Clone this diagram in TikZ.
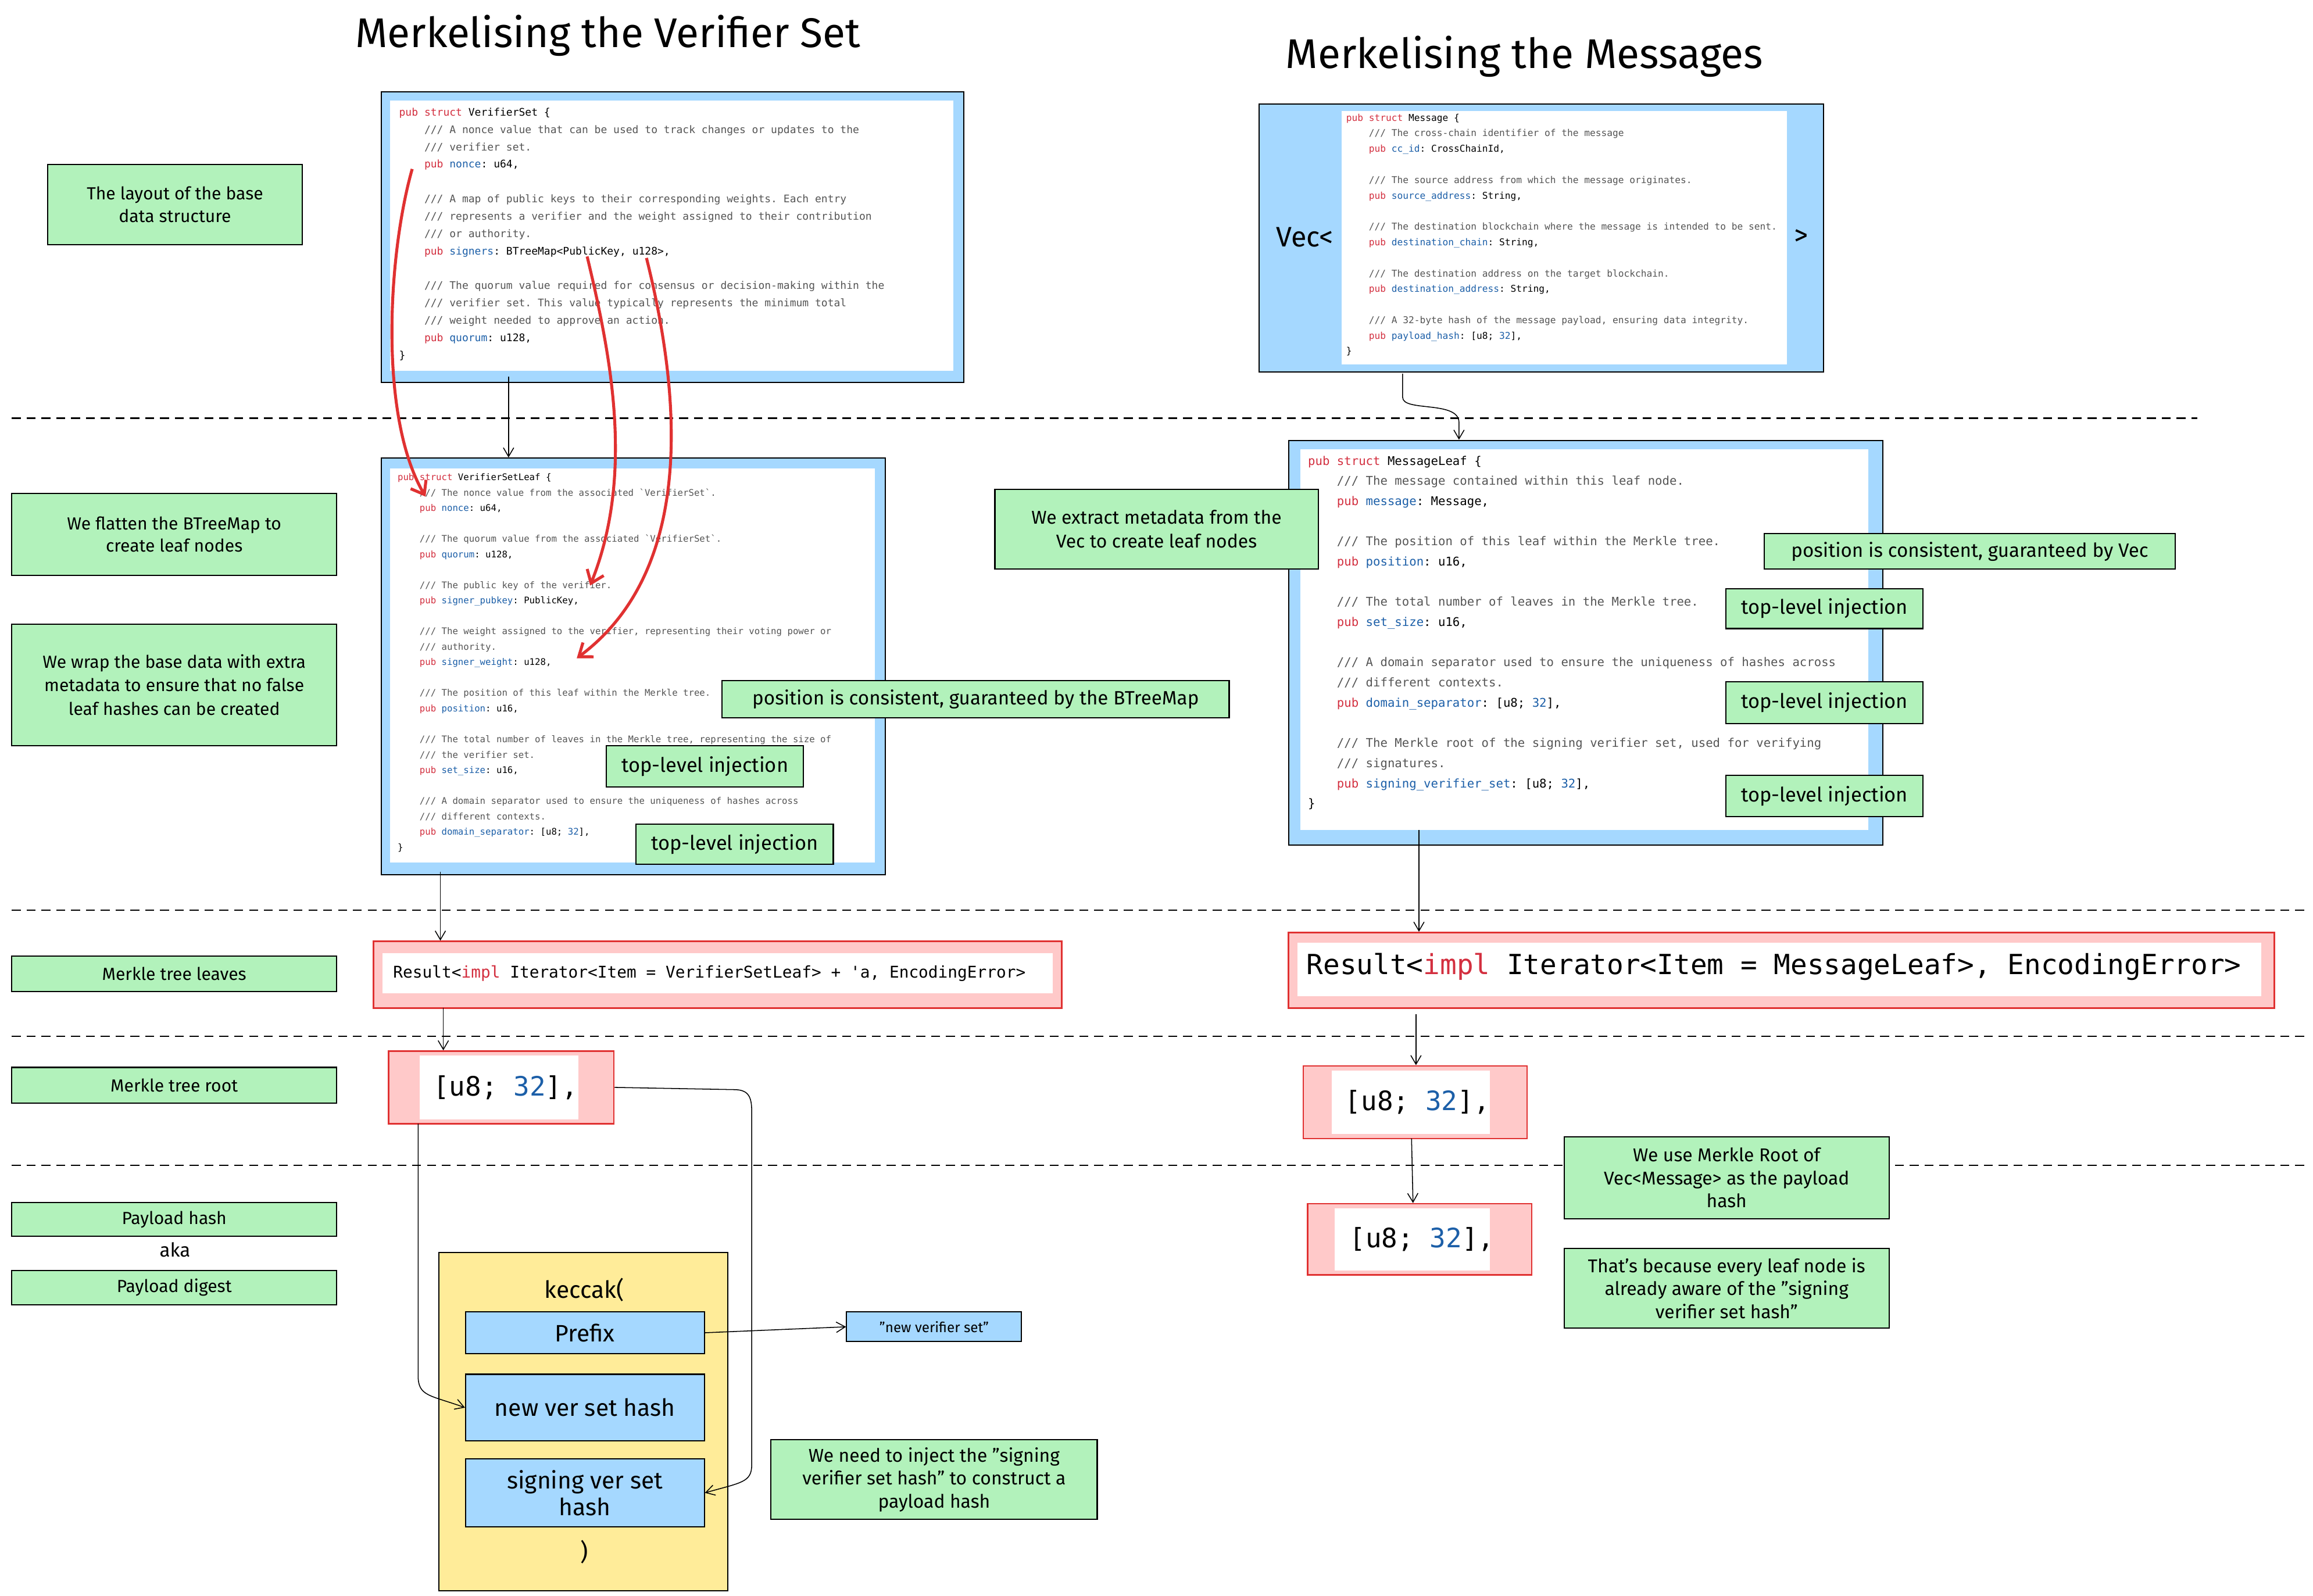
\documentclass[tikz,border=0pt]{standalone}
\usepackage{fontspec}
\setmainfont{Fira Sans}
\setmonofont{DejaVu Sans Mono}
\usetikzlibrary{arrows.meta}
\definecolor{gfill}{HTML}{B2F2BB}
\definecolor{bfill}{HTML}{A5D8FF}
\definecolor{rfill}{HTML}{FFC9C9}
\definecolor{rline}{HTML}{E03131}
\definecolor{yfill}{HTML}{FFEC99}
\definecolor{kw}{HTML}{D32F3F}
\definecolor{fld}{HTML}{1C5FA8}
\definecolor{cmt}{HTML}{555555}
\newcommand{\kp}{\textcolor{kw}{pub}}
\newcommand{\ks}{\textcolor{kw}{struct}}
\newcommand{\fd}[1]{\textcolor{fld}{#1}}
\newcommand{\cm}[1]{\textcolor{cmt}{#1}}
\newcommand{\ii}{\hspace*{2.408em}}
\newcommand{\bl}{\mbox{}}
\begin{document}
\begin{tikzpicture}[x=1pt,y=-1pt,
  note/.style={draw=black,fill=gfill,line width=0.8pt,align=center,inner sep=2pt,font=\fontsize{11.8}{15}\selectfont},
  bnote/.style={draw=black,fill=bfill,line width=0.8pt,align=center,font=\fontsize{12}{14}\selectfont},
  code/.style={anchor=north west,inner sep=0pt,align=left},
  conn/.style={line width=0.6pt,-{Straight Barb[length=6pt,width=7pt]}},
  redarr/.style={draw=rline,line width=2pt,-{Straight Barb[length=8pt,width=12pt]}},
  sepline/.style={line width=1pt,dash pattern=on 6pt off 4pt},
  title/.style={font=\fontsize{28}{32}\selectfont}]
\useasboundingbox[fill=white] (0,0) rectangle (1560,1076.3);

% titles
\node[title] (t1) at (410,24) {Merkelising the Verifier Set};
\node[title] (t2) at (1028,38) {Merkelising the Messages};

% dashed separators
\draw[sepline] (8,282) -- (1482,282);
\draw[sepline] (8,614) -- (1555,614);
\draw[sepline] (8,699) -- (1555,699);
\draw[sepline] (8,786) -- (1555,786);

% ===== left notes
\node[note,minimum width=172pt,minimum height=54pt] (n1) at (118,138) {The layout of the base\\data structure};
\node[note,minimum width=219pt,minimum height=55pt] (n2) at (117.5,360.5) {We flatten the BTreeMap to\\create leaf nodes};
\node[note,minimum width=219pt,minimum height=82pt,font=\fontsize{11.8}{16}\selectfont] (n3) at (117.5,462) {We wrap the base data with extra\\metadata to ensure that no false\\leaf hashes can be created};
\node[note,minimum width=219pt,minimum height=24pt] (n4) at (117.5,657) {Merkle tree leaves};
\node[note,minimum width=219pt,minimum height=24pt] (n5) at (117.5,732) {Merkle tree root};
\node[note,minimum width=219pt,minimum height=23pt] (n6) at (117.5,822.5) {Payload hash};
\node[font=\fontsize{13}{15}\selectfont] (aka) at (118,843) {aka};
\node[note,minimum width=219pt,minimum height=23pt] (n7) at (117.5,868.5) {Payload digest};

% ===== VerifierSet box
\node[draw=black,fill=bfill,line width=0.8pt,minimum width=393pt,minimum height=196pt] (vs) at (453.5,160) {};
\fill[white] (263,68) rectangle (643,250);
\node[code,font=\ttfamily\fontsize{7.06}{11.7}\selectfont] (vscode) at (269,72.6) {%
\kp{} \ks{} VerifierSet \{\\
\ii\cm{/// A nonce value that can be used to track changes or updates to the}\\
\ii\cm{/// verifier set.}\\
\ii\kp{} \fd{nonce}: u64,\\
\bl\\
\ii\cm{/// A map of public keys to their corresponding weights. Each entry}\\
\ii\cm{/// represents a verifier and the weight assigned to their contribution}\\
\ii\cm{/// or authority.}\\
\ii\kp{} \fd{signers}: BTreeMap<PublicKey, u128>,\\
\bl\\
\ii\cm{/// The quorum value required for consensus or decision-making within the}\\
\ii\cm{/// verifier set. This value typically represents the minimum total}\\
\ii\cm{/// weight needed to approve an action.}\\
\ii\kp{} \fd{quorum}: u128,\\
\}};

% ===== VerifierSetLeaf box
\node[draw=black,fill=bfill,line width=0.8pt,minimum width=340pt,minimum height=281pt] (vl) at (427,449.5) {};
\fill[white] (263,316) rectangle (590,582);
\node[code,font=\ttfamily\fontsize{6.15}{10.4}\selectfont] (vlcode) at (268,319.2) {%
\kp{} \ks{} VerifierSetLeaf \{\\
\ii\cm{/// The nonce value from the associated `VerifierSet`.}\\
\ii\kp{} \fd{nonce}: u64,\\
\bl\\
\ii\cm{/// The quorum value from the associated `VerifierSet`.}\\
\ii\kp{} \fd{quorum}: u128,\\
\bl\\
\ii\cm{/// The public key of the verifier.}\\
\ii\kp{} \fd{signer\_pubkey}: PublicKey,\\
\bl\\
\ii\cm{/// The weight assigned to the verifier, representing their voting power or}\\
\ii\cm{/// authority.}\\
\ii\kp{} \fd{signer\_weight}: u128,\\
\bl\\
\ii\cm{/// The position of this leaf within the Merkle tree.}\\
\ii\kp{} \fd{position}: u16,\\
\bl\\
\ii\cm{/// The total number of leaves in the Merkle tree, representing the size of}\\
\ii\cm{/// the verifier set.}\\
\ii\kp{} \fd{set\_size}: u16,\\
\bl\\
\ii\cm{/// A domain separator used to ensure the uniqueness of hashes across}\\
\ii\cm{/// different contexts.}\\
\ii\kp{} \fd{domain\_separator}: [u8; \fd{32}],\\
\}};
\node[note,minimum width=342pt,minimum height=25pt,font=\fontsize{13}{15}\selectfont] (pc1) at (658,471.5) {position is consistent, guaranteed by the BTreeMap};
\node[note,minimum width=133pt,minimum height=28pt,font=\fontsize{13.5}{15}\selectfont] (tl1) at (475.5,517) {top-level injection};
\node[note,minimum width=133pt,minimum height=27pt,font=\fontsize{13.5}{15}\selectfont] (tl2) at (495.5,569.5) {top-level injection};

% red arrows
\draw[redarr] (278,114) .. controls (262,170) and (255,280) .. (287,335);
\draw[redarr] (396,173) .. controls (412,240) and (428,320) .. (398,395);
\draw[redarr] (436,174) .. controls (455,250) and (475,380) .. (389,444);

% ===== Message box
\node[draw=black,fill=bfill,line width=0.8pt,minimum width=381pt,minimum height=181pt] (msg) at (1039.5,160.5) {};
\fill[white] (905,75) rectangle (1205,246);
\node[font=\fontsize{19}{22}\selectfont] (vec) at (880,160) {Vec<};
\node[font=\fontsize{19}{22}\selectfont] (vecr) at (1215,160) {>};
\node[code,font=\ttfamily\fontsize{6.35}{10.5}\selectfont] (msgcode) at (907.7,76.6) {%
\kp{} \ks{} Message \{\\
\ii\cm{/// The cross-chain identifier of the message}\\
\ii\kp{} \fd{cc\_id}: CrossChainId,\\
\bl\\
\ii\cm{/// The source address from which the message originates.}\\
\ii\kp{} \fd{source\_address}: String,\\
\bl\\
\ii\cm{/// The destination blockchain where the message is intended to be sent.}\\
\ii\kp{} \fd{destination\_chain}: String,\\
\bl\\
\ii\cm{/// The destination address on the target blockchain.}\\
\ii\kp{} \fd{destination\_address}: String,\\
\bl\\
\ii\cm{/// A 32-byte hash of the message payload, ensuring data integrity.}\\
\ii\kp{} \fd{payload\_hash}: [u8; \fd{32}],\\
\}};

% ===== MessageLeaf box
\node[draw=black,fill=bfill,line width=0.8pt,minimum width=401pt,minimum height=273pt] (ml) at (1069.5,433.5) {};
\fill[white] (877,303) rectangle (1260,560);
\node[code,font=\ttfamily\fontsize{8.1}{13.6}\selectfont] (mlcode) at (882,307.3) {%
\kp{} \ks{} MessageLeaf \{\\
\ii\cm{/// The message contained within this leaf node.}\\
\ii\kp{} \fd{message}: Message,\\
\bl\\
\ii\cm{/// The position of this leaf within the Merkle tree.}\\
\ii\kp{} \fd{position}: u16,\\
\bl\\
\ii\cm{/// The total number of leaves in the Merkle tree.}\\
\ii\kp{} \fd{set\_size}: u16,\\
\bl\\
\ii\cm{/// A domain separator used to ensure the uniqueness of hashes across}\\
\ii\cm{/// different contexts.}\\
\ii\kp{} \fd{domain\_separator}: [u8; \fd{32}],\\
\bl\\
\ii\cm{/// The Merkle root of the signing verifier set, used for verifying}\\
\ii\cm{/// signatures.}\\
\ii\kp{} \fd{signing\_verifier\_set}: [u8; \fd{32}],\\
\}};
\node[note,minimum width=218pt,minimum height=54pt,font=\fontsize{12.5}{16}\selectfont] (ex) at (780,357) {We extract metadata from the\\Vec to create leaf nodes};
\node[note,minimum width=277pt,minimum height=24pt,font=\fontsize{13}{15}\selectfont] (pc2) at (1328.5,372) {position is consistent, guaranteed by Vec};
\node[note,minimum width=133pt,minimum height=27pt,font=\fontsize{13.5}{15}\selectfont] (tl3) at (1230.5,410.5) {top-level injection};
\node[note,minimum width=133pt,minimum height=28pt,font=\fontsize{13.5}{15}\selectfont] (tl4) at (1230.5,474) {top-level injection};
\node[note,minimum width=133pt,minimum height=28pt,font=\fontsize{13.5}{15}\selectfont] (tl5) at (1230.5,537) {top-level injection};

% ===== Result boxes
\node[draw=rline,fill=rfill,line width=1pt,minimum width=464pt,minimum height=45pt] (res1) at (484,657.5) {};
\fill[white] (258,643) rectangle (710,670);
\node[anchor=west,inner sep=0pt,font=\ttfamily\fontsize{10.9}{13}\selectfont] (res1t) at (265,656.5) {Result<\textcolor{kw}{impl} Iterator<Item = VerifierSetLeaf> + 'a, EncodingError>};
\node[draw=rline,fill=rfill,line width=1pt,minimum width=665pt,minimum height=51pt] (res2) at (1201.5,654.5) {};
\fill[white] (875,636) rectangle (1525,672);
\node[anchor=west,inner sep=0pt,font=\ttfamily\fontsize{18.7}{24}\selectfont] (res2t) at (881,652) {Result<\textcolor{kw}{impl} Iterator<Item = MessageLeaf>, EncodingError>};

% ===== [u8;32] boxes
\node[draw=rline,fill=rfill,line width=1pt,minimum width=152pt,minimum height=49pt] (h1) at (338,733.5) {};
\fill[white] (283,712) rectangle (390,755);
\node[anchor=west,inner sep=0pt,font=\ttfamily\fontsize{18}{20}\selectfont] (h1t) at (292,733.5) {[u8; \fd{32}],};
\node[draw=rline,fill=rfill,line width=1pt,minimum width=151pt,minimum height=49pt] (h2) at (954.5,743.5) {};
\fill[white] (898,722) rectangle (1005,765);
\node[anchor=west,inner sep=0pt,font=\ttfamily\fontsize{18}{20}\selectfont] (h2t) at (907,743.5) {[u8; \fd{32}],};
\node[draw=rline,fill=rfill,line width=1pt,minimum width=151pt,minimum height=48pt] (h3) at (957.5,836) {};
\fill[white] (900,815) rectangle (1005,857);
\node[anchor=west,inner sep=0pt,font=\ttfamily\fontsize{18}{20}\selectfont] (h3t) at (910,836) {[u8; \fd{32}],};

\node[note,minimum width=219pt,minimum height=55pt,font=\fontsize{12.5}{15.5}\selectfont] (mr1) at (1164.5,794.5) {We use Merkle Root of\\Vec<Message> as the payload\\hash};
\node[note,minimum width=219pt,minimum height=54pt,font=\fontsize{12.5}{15.5}\selectfont] (mr2) at (1164.5,869) {That's because every leaf node is\\already aware of the "signing\\verifier set hash"};

% ===== keccak
\node[draw=black,fill=yfill,line width=0.8pt,minimum width=195pt,minimum height=228pt] (kec) at (393.5,959) {};
\node[font=\fontsize{16}{18}\selectfont] (kect) at (394,870) {keccak(};
\node[bnote,minimum width=161pt,minimum height=28pt,font=\fontsize{16}{18}\selectfont] (pre) at (394.5,899) {Prefix};
\node[bnote,minimum width=161pt,minimum height=45pt,font=\fontsize{16}{18}\selectfont] (nvs) at (394.5,949.5) {new ver set hash};
\node[bnote,minimum width=161pt,minimum height=46pt,font=\fontsize{16}{18}\selectfont] (svs) at (394.5,1007) {signing ver set\\hash};
\node[font=\fontsize{16}{18}\selectfont] (kecc) at (394,1047) {)};
\node[bnote,minimum width=118pt,minimum height=20pt,font=\fontsize{9.5}{11}\selectfont] (nvstr) at (630,895) {"new verifier set"};
\node[note,minimum width=220pt,minimum height=54pt,font=\fontsize{12.5}{15.5}\selectfont] (inj) at (630,998) {We need to inject the "signing\\verifier set hash" to construct a\\payload hash};

% ===== connectors
\draw[conn] (343,254) -- (vl.north -| 343,0);
\draw[conn] (946,252) -- (946,268) .. controls (946,278) and (984,270) .. (984,285) -- (ml.north -| 984,0);
\draw[conn] (297,588) -- (res1.north -| 297,0);
\draw[conn] (299,680) -- (h1.north -| 299,0);
\draw[conn] (282,758) -- (282,928) .. controls (282,942) and (290,941) .. (nvs.west);
\draw[conn] (h1.east) -- (495,735) .. controls (505,735) and (507,740) .. (507,750) -- (507,988) .. controls (507,1000) and (500,1000) .. (svs.east);
\draw[conn] (pre.east) -- (nvstr.west);
\draw[conn] (957,560) -- (res2.north -| 957,0);
\draw[conn] (955,684) -- (h2.north -| 955,0);
\draw[conn] (952,768) -- (h3.north -| 953,0);
\end{tikzpicture}
\end{document}
